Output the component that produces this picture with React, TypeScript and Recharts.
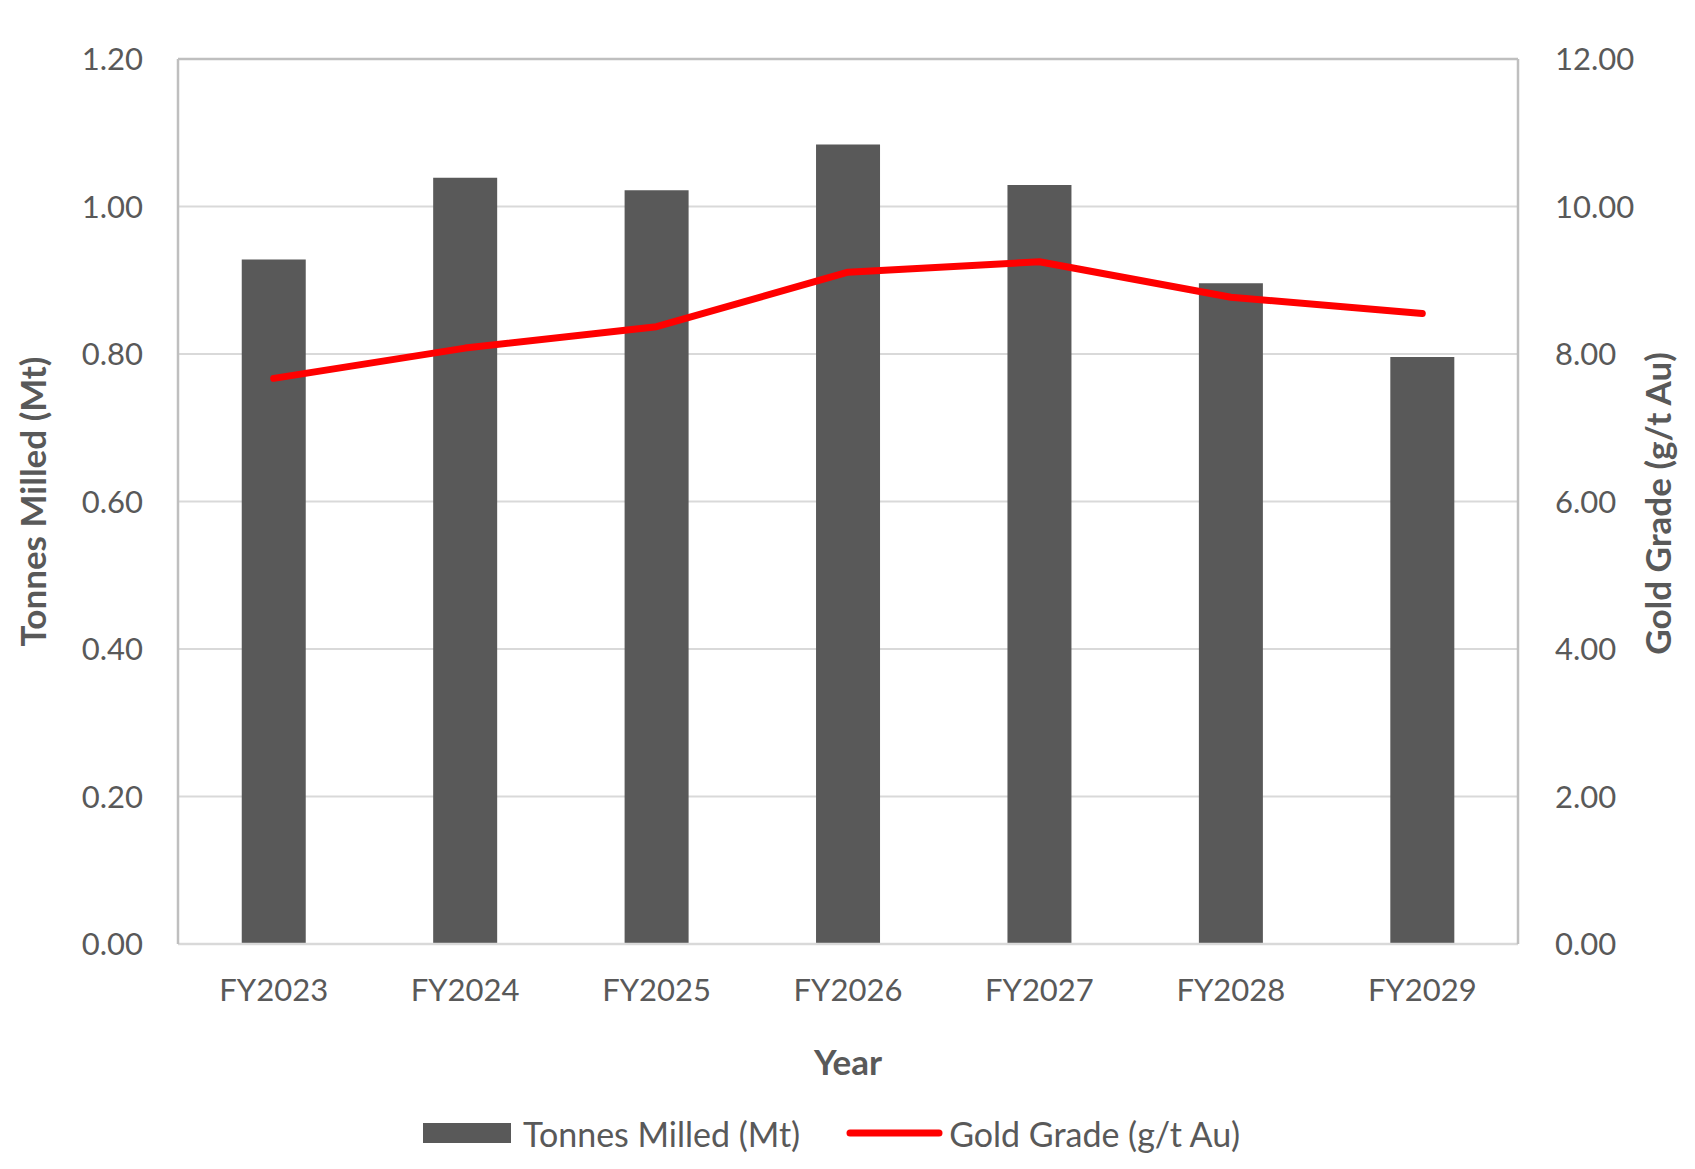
import React from 'react';
import {
  ComposedChart,
  Bar,
  Line,
  XAxis,
  YAxis,
  CartesianGrid,
  Legend,
  ReferenceLine,
} from 'recharts';

const years = ['FY2023', 'FY2024', 'FY2025', 'FY2026', 'FY2027', 'FY2028', 'FY2029'];
const tonnesMilled = [0.928, 1.039, 1.022, 1.084, 1.029, 0.896, 0.796];
const goldGrade = [7.67, 8.08, 8.37, 9.11, 9.25, 8.77, 8.55];
const leftTicks = [0, 0.2, 0.4, 0.6, 0.8, 1.0, 1.2];
const rightTicks = [0, 2, 4, 6, 8, 10, 12];

const data = years.map((y, i) => ({ year: y, tonnes: tonnesMilled[i], grade: goldGrade[i] }));

const FONT = 'Lato, "Open Sans", sans-serif';
const TEXT = '#595959';
const BAR = '#595959';
const RED = '#FF0000';

const LeftTitle = (props: any) => {
  const vb = props.viewBox || {};
  const cx = 46;
  const cy = (vb.y ?? 59) + (vb.height ?? 885) / 2;
  return (
    <text
      x={cx}
      y={cy}
      transform={`rotate(-90 ${cx} ${cy})`}
      textAnchor="middle"
      fill={TEXT}
      fontFamily={FONT}
      fontWeight={700}
      fontSize={35}
    >
      Tonnes Milled (Mt)
    </text>
  );
};

const RightTitle = (props: any) => {
  const vb = props.viewBox || {};
  const cx = 1671;
  const cy = (vb.y ?? 59) + (vb.height ?? 885) / 2 + 2;
  return (
    <text
      x={cx}
      y={cy}
      transform={`rotate(-90 ${cx} ${cy})`}
      textAnchor="middle"
      fill={TEXT}
      fontFamily={FONT}
      fontWeight={700}
      fontSize={35}
    >
      Gold Grade (g/t Au)
    </text>
  );
};

const LegendContent = () => (
  <div
    style={{
      display: 'flex',
      justifyContent: 'center',
      alignItems: 'center',
      paddingRight: 32,
      fontFamily: FONT,
      fontSize: 34,
      color: TEXT,
      height: 42,
    }}
  >
    <svg width={88} height={20} style={{ marginRight: 12 }}>
      <rect x={0} y={0} width={88} height={20} fill={BAR} />
    </svg>
    <span>Tonnes Milled (Mt)</span>
    <svg width={97} height={10} style={{ marginLeft: 46, marginRight: 6 }}>
      <line x1={4} y1={5} x2={93} y2={5} stroke={RED} strokeWidth={7} strokeLinecap="round" />
    </svg>
    <span>Gold Grade (g/t Au)</span>
  </div>
);

export default function App() {
  return (
    <div style={{ position: 'absolute', left: 0, top: 0, background: '#fff' }}>
      <ComposedChart
        width={1695}
        height={1169}
        data={data}
        margin={{ top: 59, right: 0, bottom: 0, left: 0 }}
        barCategoryGap="33.3%"
      >
        <CartesianGrid yAxisId="left" vertical={false} stroke="#D9D9D9" strokeWidth={2} />
        <XAxis
          dataKey="year"
          height={225}
          tickLine={false}
          tickSize={0}
          tickMargin={35}
          axisLine={{ stroke: '#D9D9D9', strokeWidth: 2.5 }}
          tick={{ fill: TEXT, fontSize: 31, fontFamily: FONT }}
          label={{
            value: 'Year',
            position: 'insideTop',
            offset: 106,
            fill: TEXT,
            fontSize: 35,
            fontWeight: 700,
            fontFamily: FONT,
          }}
        />
        <YAxis
          yAxisId="left"
          orientation="left"
          width={178}
          domain={[0, 1.2]}
          ticks={leftTicks}
          tickFormatter={(v: number) => v.toFixed(2)}
          tickLine={false}
          tickSize={0}
          tickMargin={35}
          axisLine={{ stroke: '#BFBFBF', strokeWidth: 2.5 }}
          tick={{ fill: TEXT, fontSize: 31, fontFamily: FONT }}
          label={<LeftTitle />}
        />
        <YAxis
          yAxisId="right"
          orientation="right"
          width={177}
          domain={[0, 12]}
          ticks={rightTicks}
          tickFormatter={(v: number) => v.toFixed(2)}
          tickLine={false}
          tickSize={0}
          tickMargin={37}
          axisLine={{ stroke: '#BFBFBF', strokeWidth: 2.5 }}
          tick={{ fill: TEXT, fontSize: 31, fontFamily: FONT }}
          label={<RightTitle />}
        />
        <ReferenceLine yAxisId="left" y={1.2} stroke="#BFBFBF" strokeWidth={2.5} />
        <Bar yAxisId="left" dataKey="tonnes" name="Tonnes Milled (Mt)" fill={BAR} isAnimationActive={false} />
        <Line
          yAxisId="right"
          type="linear"
          dataKey="grade"
          name="Gold Grade (g/t Au)"
          stroke={RED}
          strokeWidth={7}
          strokeLinecap="round"
          strokeLinejoin="round"
          dot={false}
          activeDot={false}
          isAnimationActive={false}
        />
        <Legend
          layout="horizontal"
          verticalAlign="middle"
          align="center"
          content={<LegendContent />}
          wrapperStyle={{ top: 1112, left: 0, width: 1695, bottom: 'auto' }}
        />
      </ComposedChart>
    </div>
  );
}
